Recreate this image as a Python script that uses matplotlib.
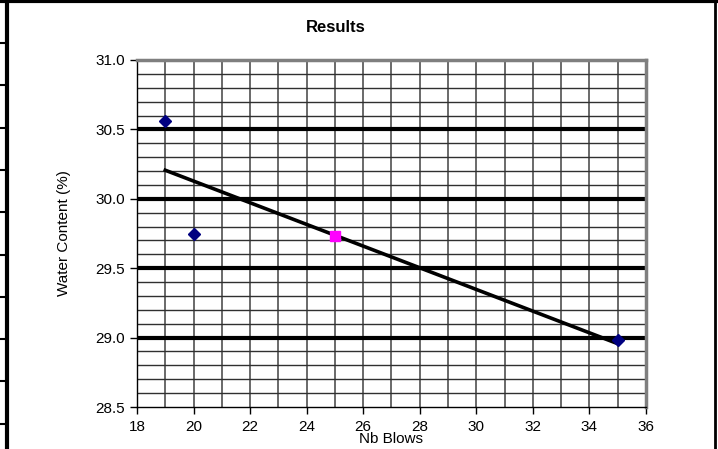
import numpy as np
import matplotlib.pyplot as plt
from matplotlib.lines import Line2D

plt.rcParams['font.family'] = ['Liberation Sans', 'DejaVu Sans']

# measured points
blows = [19, 20, 35]
water = [30.56, 29.75, 28.98]
# liquid limit point at 25 blows
ll_blows = [25]
ll_water = [29.73]

xticks = np.arange(18, 37, 2)
yticks = [28.5, 29.0, 29.5, 30.0, 30.5, 31.0]

fig = plt.figure(figsize=(7.18, 4.49), dpi=100)
ax = fig.add_axes([0.1908, 0.0935, 0.7089, 0.7729])

ax.set_xlim(18, 36)
ax.set_ylim(28.5, 31.0)

# minor grid: every blow, every 0.1 %
for x in np.arange(19, 36):
    ax.axvline(x, color='#505050', lw=1.2, zorder=1)
for y in np.arange(28.6, 31.0, 0.1):
    ax.axhline(y, color='#303030', lw=1.0, zorder=1)
# major horizontal grid
for y in yticks[1:-1]:
    ax.axhline(y, color='black', lw=3.0, zorder=2)

# trend line through the measured points
k, b = np.polyfit(blows, water, 1)
xl = np.array([min(blows), max(blows)])
ax.plot(xl, k * xl + b, color='black', lw=2.6, zorder=3)

ax.plot(blows, water, 'D', color='#000080', ms=6.5, zorder=4)
ax.plot(ll_blows, ll_water, 's', color='#ff00ff', ms=7, zorder=4)

ax.set_xticks(xticks)
ax.set_yticks(yticks)
ax.set_yticklabels([f'{v:.1f}' for v in yticks])
ax.tick_params(direction='out', length=5, width=1, labelsize=11, colors='black')
ax.tick_params(axis='x', pad=4)

for s in ['left', 'bottom']:
    ax.spines[s].set_color('black')
    ax.spines[s].set_linewidth(1.0)
for s in ['top', 'right']:
    ax.spines[s].set_color('#7f7f7f')
    ax.spines[s].set_linewidth(2.5)

ax.set_xlabel('Nb Blows', fontsize=11, labelpad=-1)
ax.set_ylabel('Water Content (%)', fontsize=11, labelpad=18)
fig.text(336 / 718, 1 - 27 / 449, 'Results', ha='center', va='center',
         fontsize=12, fontweight='bold')

# outer chart frame
fig.add_artist(Line2D([0, 1], [0.998, 0.998], color='black', lw=3))
fig.add_artist(Line2D([7 / 718, 7 / 718], [0, 1], color='black', lw=3))
fig.add_artist(Line2D([715 / 718, 715 / 718], [0, 1], color='black', lw=2))
for yp in np.arange(43, 449, 42.3):
    fig.add_artist(Line2D([0, 7 / 718], [1 - yp / 449] * 2, color='black', lw=1.5))

fig.savefig('out.png', dpi=100)
